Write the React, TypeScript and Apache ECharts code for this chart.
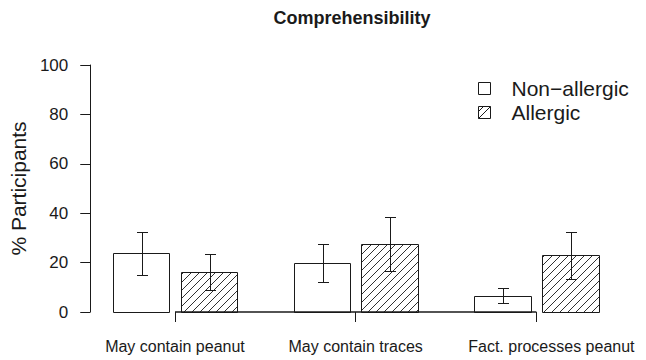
import React, { useEffect, useRef } from "react";
import * as echarts from "echarts";

const categories = ["May contain peanut", "May contain traces", "Fact. processes peanut"];
const seriesNames = ["Non\u2212allergic", "Allergic"];
const nonAllergic = [23.8, 20.0, 6.6];
const nonAllergicLow = [15.0, 12.3, 3.6];
const nonAllergicHigh = [32.3, 27.7, 9.8];
const allergic = [16.2, 27.5, 23.1];
const allergicLow = [8.8, 16.7, 13.4];
const allergicHigh = [23.6, 38.3, 32.5];
const yTicks = [0, 20, 40, 60, 80, 100];

// layout in bar-width units (like R barplot with space = c(0.2, 1))
const FIRST = 1;
const INNER = 1.2;
const PITCH = 3.2;
const groupCenter = (g: number) => FIRST + g * PITCH + (INNER + 1) / 2;
const centers = categories.map((_, g) => groupCenter(g));

const INK = "#1a1a1a";
const FONT = "Liberation Sans, Arial, Helvetica, sans-serif";

function buildData(vals: number[], lo: number[], hi: number[], j: number) {
  return vals.map((v, g) => {
    const left = FIRST + g * PITCH + j * INNER;
    return [left, left + 1, v, lo[g], hi[g]];
  });
}

function makeRender(hatched: boolean) {
  return (_params: any, api: any) => {
    const l = api.value(0), r = api.value(1), v = api.value(2), lo = api.value(3), hi = api.value(4);
    const a = api.coord([l, 0]);
    const b = api.coord([r, v]);
    const x0 = Math.round(a[0]) + 0.5;
    const x1 = Math.round(b[0]) + 0.5;
    const yb = Math.round(a[1]) + 0.5;
    const yt = Math.round(b[1]) + 0.5;
    const children: any[] = [];
    children.push({
      type: "rect",
      shape: { x: x0, y: yt, width: x1 - x0, height: yb - yt },
      style: { fill: "#fff", stroke: INK, lineWidth: 1 },
    });
    if (hatched) {
      const step = 8;
      const cMin = x0 + yt;
      const cMax = x1 + yb;
      for (let c = Math.ceil(cMin / step) * step; c <= cMax; c += step) {
        const xa = Math.max(x0, c - yb);
        const xb = Math.min(x1, c - yt);
        if (xb - xa > 0.5) {
          children.push({
            type: "line",
            shape: { x1: xa, y1: c - xa, x2: xb, y2: c - xb },
            style: { stroke: INK, lineWidth: 0.9 },
          });
        }
      }
    }
    const cx = Math.round((x0 + x1) / 2) + 0.5;
    const yLo = Math.round(api.coord([l, lo])[1]) + 0.5;
    const yHi = Math.round(api.coord([l, hi])[1]) + 0.5;
    const cap = 5.5;
    const es = { stroke: INK, lineWidth: 1 };
    children.push({ type: "line", shape: { x1: cx, y1: yLo, x2: cx, y2: yHi }, style: es });
    children.push({ type: "line", shape: { x1: cx - cap, y1: yHi, x2: cx + cap, y2: yHi }, style: es });
    children.push({ type: "line", shape: { x1: cx - cap, y1: yLo, x2: cx + cap, y2: yLo }, style: es });
    return { type: "group", children };
  };
}

export default function App() {
  const ref = useRef<HTMLDivElement>(null);
  useEffect(() => {
    if (!ref.current) return;
    const chart = echarts.init(ref.current, null, { renderer: "svg" });
    const unit = 56.5;
    const xMin = 0.6;
    const xMax = 10.2;
    const left = 90;
    const right = 646 - (left + (xMax - xMin) * unit);
    const lastIdx = categories.length - 1;
    chart.setOption({
      animation: false,
      backgroundColor: "#fff",
      textStyle: { fontFamily: FONT, color: INK },
      title: {
        text: "Comprehensibility",
        left: 352,
        top: 9,
        textAlign: "center",
        padding: 0,
        textStyle: { fontFamily: FONT, fontWeight: "bold", fontSize: 18, color: INK },
      },
      legend: {
        orient: "vertical",
        left: 478,
        top: 78,
        padding: 0,
        itemWidth: 12,
        itemHeight: 12,
        itemGap: 3,
        selectedMode: false,
        textStyle: { fontFamily: FONT, fontSize: 21, color: INK, padding: [0, 0, 0, 16] },
        data: [
          {
            name: seriesNames[0],
            icon: "path://M0,0L12,0L12,12L0,12Z",
            itemStyle: { color: "#fff", borderColor: INK, borderWidth: 1 },
          },
          {
            name: seriesNames[1],
            icon: "path://M0,0L12,0L12,12L0,12Z M0,12L12,0 M0,5L5,0",
            itemStyle: { color: "#fff", borderColor: INK, borderWidth: 1 },
          },
        ],
      },
      grid: { left, right, top: 65, bottom: 48, containLabel: false },
      xAxis: {
        type: "value",
        min: xMin,
        max: xMax,
        axisLine: { show: false },
        splitLine: { show: false },
        axisTick: {
          show: true,
          customValues: centers,
          length: 10,
          lineStyle: { color: INK, width: 1 },
        },
        axisLabel: {
          show: true,
          customValues: centers,
          margin: 26,
          fontFamily: FONT,
          fontSize: 16,
          color: INK,
          formatter: (val: number) => {
            const i = Math.round((val - centers[0]) / PITCH);
            const name = categories[i] ?? "";
            return i === lastIdx ? "{shift|" + name + "}" : name;
          },
          rich: {
            shift: { fontFamily: FONT, fontSize: 16, color: INK, padding: [0, 0, 0, 30] },
          },
        },
      },
      yAxis: {
        type: "value",
        min: 0,
        max: 100,
        interval: 20,
        name: "% Participants",
        nameLocation: "middle",
        nameRotate: 90,
        nameGap: 60,
        nameTextStyle: { fontFamily: FONT, fontSize: 21, color: INK },
        axisLine: { show: true, lineStyle: { color: INK, width: 1 } },
        axisTick: { show: true, length: 10, lineStyle: { color: INK, width: 1 } },
        axisLabel: {
          margin: 22,
          fontFamily: FONT,
          fontSize: 17,
          color: INK,
          customValues: yTicks,
        },
        splitLine: { show: false },
      },
      series: [
        {
          name: seriesNames[0],
          type: "custom",
          renderItem: makeRender(false),
          encode: { x: [0, 1], y: [2, 3, 4] },
          data: buildData(nonAllergic, nonAllergicLow, nonAllergicHigh, 0),
          itemStyle: { color: "#fff", borderColor: INK },
          markLine: {
            silent: true,
            symbol: "none",
            label: { show: false },
            lineStyle: { color: INK, width: 1.6, type: "solid" },
            data: [[{ coord: [centers[0], 0] }, { coord: [centers[lastIdx], 0] }]],
          },
          z: 2,
        },
        {
          name: seriesNames[1],
          type: "custom",
          renderItem: makeRender(true),
          encode: { x: [0, 1], y: [2, 3, 4] },
          data: buildData(allergic, allergicLow, allergicHigh, 1),
          itemStyle: { color: "#fff", borderColor: INK },
          z: 2,
        },
      ],
    });
    return () => chart.dispose();
  }, []);
  return (
    <div
      ref={ref}
      style={{ position: "fixed", left: 0, top: 0, width: 646, height: 360, background: "#fff" }}
    />
  );
}
